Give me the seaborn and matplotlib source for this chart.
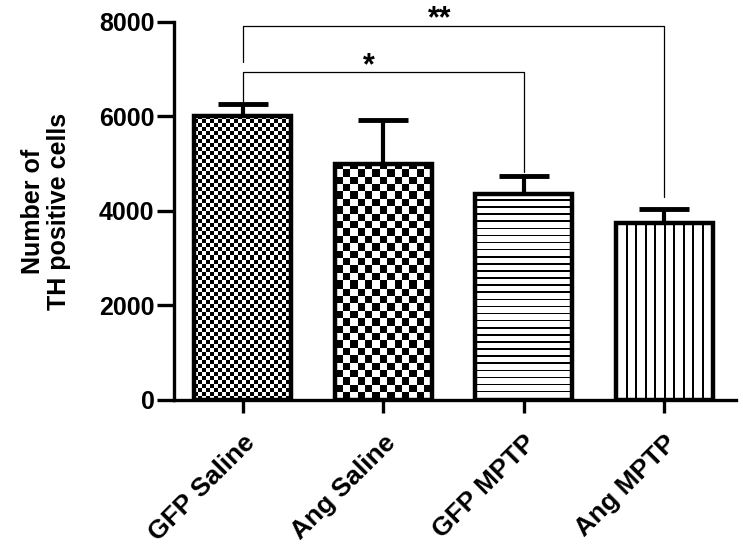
import matplotlib
matplotlib.use("Agg")

import numpy as np
import pandas as pd
import matplotlib.pyplot as plt
import matplotlib.transforms as mtransforms
import seaborn as sns

# ── Data ──────────────────────────────────────────────────────────────────────
groups = ["GFP Saline", "Ang Saline", "GFP MPTP", "Ang MPTP"]
means = [6000, 5000, 4350, 3750]
sems = [260, 930, 390, 290]
fills = ["fine_checker", "coarse_checker", "hlines", "vlines"]

y_ticks = [0, 2000, 4000, 6000, 8000]
y_label = "Number of\nTH positive cells"

# significance brackets: (left bar, right bar, bracket height, label, left leg end, right leg end)
comparisons = [
    (0, 2, 6940, "*", 6270, 4820),
    (0, 3, 7920, "**", 7150, 4290),
]

# ── Style ─────────────────────────────────────────────────────────────────────
sns.set_theme(style="ticks")
plt.rcParams.update({
    "font.family": ["Liberation Sans", "DejaVu Sans"],
    "font.weight": "bold",
    "axes.linewidth": 2.4,
    "axes.edgecolor": "black",
    "axes.labelcolor": "black",
    "text.color": "black",
    "xtick.color": "black",
    "ytick.color": "black",
})


def texture(kind, ny, nx):
    """Pixel texture (1 = black) used to fill a bar."""
    iy, ix = np.mgrid[0:ny, 0:nx]
    if kind == "fine_checker":
        return ((ix // 4 + iy // 4) % 2).astype(float)
    if kind == "coarse_checker":
        return ((np.floor(ix / 7.4) + np.floor(iy / 7.4)) % 2).astype(float)
    if kind == "hlines":
        return ((iy % 7.1) < 1.6).astype(float)
    return ((ix % 9.5) < 2.0).astype(float)


def fill_bar(ax, patch, kind):
    x0, y0 = patch.get_x(), patch.get_y()
    w, h = patch.get_width(), patch.get_height()
    (px0, py0), (px1, py1) = ax.transData.transform([(x0, y0), (x0 + w, y0 + h)])
    nx, ny = int(round(px1 - px0)), int(round(py1 - py0))
    img = ax.imshow(texture(kind, ny, nx), cmap="gray_r", vmin=0, vmax=1,
                    extent=(x0, x0 + w, y0, y0 + h), origin="lower",
                    interpolation="nearest", aspect="auto",
                    zorder=patch.get_zorder() - 0.1)
    img.set_clip_path(patch)
    patch.set_facecolor("none")


df = pd.DataFrame({"group": groups, "mean": means, "sem": sems})

fig = plt.figure(figsize=(7.43, 5.54), dpi=100)
ax = fig.add_axes([0.2342, 0.278, 0.7564, 0.6823])

sns.barplot(data=df, x="group", y="mean", color="white", saturation=1,
            edgecolor="black", linewidth=3.2, width=0.69, errorbar=None, ax=ax)

ax.set_xlim(-0.49, 3.51)
ax.set_ylim(0, 8000)

for patch, kind in zip(ax.patches, fills):
    fill_bar(ax, patch, kind)

ax.errorbar(np.arange(len(groups)), df["mean"],
            yerr=[np.zeros(len(groups)), df["sem"]],
            fmt="none", ecolor="black", elinewidth=3, capsize=18, capthick=3.5,
            zorder=0.5)

ax.set_xlim(-0.49, 3.51)
ax.set_ylim(0, 8000)

# significance brackets
for i, j, yb, label, yl, yr in comparisons:
    ax.plot([i, i, j, j], [yl, yb, yb, yr], color="black", lw=0.9,
            clip_on=False, zorder=3)
    ax.text((i + j) / 2 - 0.1, yb - 40, label, ha="center", va="baseline",
            fontsize=22, fontweight="bold", clip_on=False)

sns.despine(ax=ax)
ax.set_yticks(y_ticks)
ax.set_yticklabels([str(v) for v in y_ticks], fontsize=18, fontweight="bold")
ax.set_xticks(range(len(groups)))
ax.set_xticklabels(groups, fontsize=19, fontweight="bold", rotation=45,
                   ha="right", va="top", rotation_mode="anchor")
shift = mtransforms.ScaledTranslation(-6 / 100, 0, fig.dpi_scale_trans)
for lab in ax.get_xticklabels():
    lab.set_transform(lab.get_transform() + shift)
ax.tick_params(axis="y", length=12, width=2.4, pad=2)
ax.tick_params(axis="x", length=9, width=2.4, pad=13)
ax.set_xlabel("")
ax.set_ylabel(y_label, fontsize=18, fontweight="bold", linespacing=1.1)
ax.yaxis.set_label_coords(-0.183, 0.5)

fig.savefig("out.png", dpi=100)
